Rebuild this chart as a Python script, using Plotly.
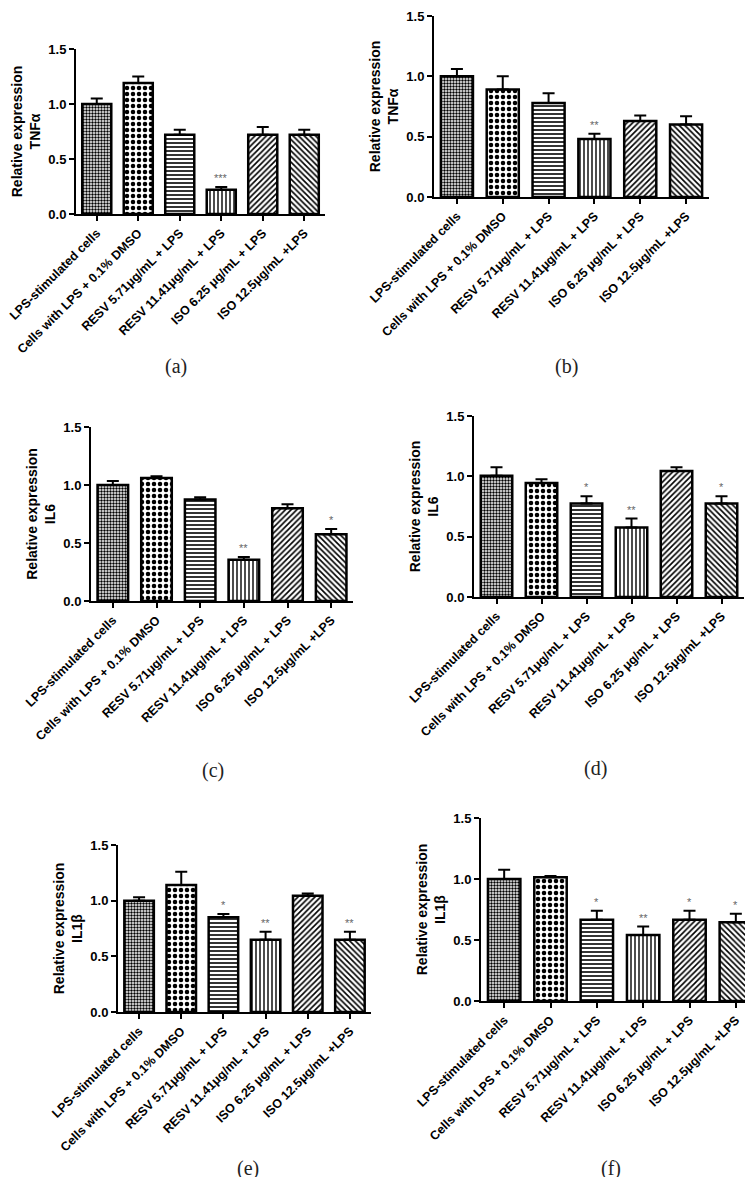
import plotly.graph_objects as go

# group labels (same for every panel)
groups = [
    "LPS-stimulated cells",
    "Cells with LPS + 0.1% DMSO",
    "RESV 5.71μg/mL + LPS",
    "RESV 11.41μg/mL + LPS",
    "ISO 6.25 μg/mL + LPS",
    "ISO 12.5μg/mL +LPS",
]

# means and SEM
tnf_a_mean = [1.00, 1.19, 0.72, 0.22, 0.72, 0.72]
tnf_a_sem = [0.05, 0.06, 0.045, 0.025, 0.07, 0.045]
tnf_a_sig = ["", "", "", "***", "", ""]

tnf_b_mean = [1.00, 0.89, 0.78, 0.48, 0.63, 0.60]
tnf_b_sem = [0.06, 0.11, 0.08, 0.045, 0.045, 0.07]
tnf_b_sig = ["", "", "", "**", "", ""]

il6_c_mean = [1.00, 1.06, 0.875, 0.355, 0.80, 0.575]
il6_c_sem = [0.035, 0.015, 0.02, 0.025, 0.035, 0.045]
il6_c_sig = ["", "", "", "**", "", "*"]

il6_d_mean = [1.005, 0.945, 0.775, 0.575, 1.045, 0.775]
il6_d_sem = [0.07, 0.03, 0.06, 0.075, 0.03, 0.06]
il6_d_sig = ["", "", "*", "**", "", "*"]

il1_e_mean = [1.00, 1.14, 0.85, 0.65, 1.045, 0.65]
il1_e_sem = [0.03, 0.12, 0.03, 0.07, 0.02, 0.07]
il1_e_sig = ["", "", "*", "**", "", "**"]

il1_f_mean = [1.00, 1.015, 0.665, 0.54, 0.665, 0.645]
il1_f_sem = [0.075, 0.01, 0.075, 0.07, 0.075, 0.07]
il1_f_sig = ["", "", "*", "**", "*", "*"]

W, H = 753, 1177

# panel: (label, gene, mean, sem, sig, x0, x1, y_top(1.5), y_zero, label_x, label_y) in pixels
panels = [
    ("(a)", "TNFα", tnf_a_mean, tnf_a_sem, tnf_a_sig, 68, 317, 41, 206, 168, 358),
    ("(b)", "TNFα", tnf_b_mean, tnf_b_sem, tnf_b_sig, 426, 701, 8, 189, 558, 358),
    ("(c)", "IL6", il6_c_mean, il6_c_sem, il6_c_sig, 83, 345, 419, 593, 205, 762),
    ("(d)", "IL6", il6_d_mean, il6_d_sem, il6_d_sig, 466, 736, 408, 589, 587, 760),
    ("(e)", "IL1β", il1_e_mean, il1_e_sem, il1_e_sig, 110, 363, 837, 1004, 240, 1160),
    ("(f)", "IL1β", il1_f_mean, il1_f_sem, il1_f_sig, 473, 751, 810, 993, 603, 1160),
]

shapes = [".", ".", "-", "|", "/", "\\"]
sizes = [3, 6, 4, 4, 4, 4]
solid = [0.5, 0.45, 0.4, 0.35, 0.4, 0.4]

bold = dict(family="Liberation Sans, Arial, sans-serif", size=13, color="black", weight="bold")

fig = go.Figure()
annotations = []

for i, (lab, gene, mean, sem, sig, x0, x1, ytop, yzero, lx, ly) in enumerate(panels):
    n = "" if i == 0 else str(i + 1)
    fig.add_trace(go.Bar(
        x=groups, y=mean,
        xaxis="x" + n, yaxis="y" + n,
        marker=dict(
            color="white",
            line=dict(color="black", width=2.5),
            pattern=dict(shape=shapes, size=sizes, solidity=solid,
                         fgcolor="black", bgcolor="white", fillmode="replace"),
        ),
        error_y=dict(type="data", symmetric=False, array=sem,
                     arrayminus=[0] * len(sem), color="black", thickness=2, width=6),
        showlegend=False,
    ))

    fig.update_layout({
        "xaxis" + n: dict(
            domain=[x0 / W, x1 / W], anchor="y" + n, type="category",
            range=[-0.5, 5.5], tickangle=-45, showline=True, linecolor="black",
            linewidth=2, ticks="outside", ticklen=5, tickwidth=2, tickcolor="black",
            tickvals=groups, ticktext=["<b>" + g + "</b>" for g in groups],
            tickfont=dict(bold, size=12.5), showgrid=False, automargin=False,
        ),
        "yaxis" + n: dict(
            domain=[1 - yzero / H, 1 - ytop / H], anchor="x" + n,
            range=[0, 1.5], dtick=0.5, tickformat=".1f", showline=True,
            linecolor="black", linewidth=2, ticks="outside", ticklen=5,
            tickwidth=2, tickcolor="black", tickfont=bold, showgrid=False,
            zeroline=False, automargin=False,
            title=dict(text="Relative expression<br>" + gene,
                       font=dict(bold, size=14), standoff=4),
        ),
    })

    for g, m, s, t in zip(groups, mean, sem, sig):
        if t:
            annotations.append(dict(
                x=g, y=m + s, xref="x" + n, yref="y" + n, text=t,
                showarrow=False, yanchor="bottom", yshift=1,
                font=dict(family="Liberation Sans, Arial", size=11, color="#666666"),
            ))

    annotations.append(dict(
        x=lx / W, y=1 - ly / H, xref="paper", yref="paper", text=lab,
        showarrow=False, xanchor="center", yanchor="middle",
        font=dict(family="Liberation Serif, serif", size=20, color="#222222"),
    ))

fig.update_layout(
    width=W, height=H,
    margin=dict(l=0, r=0, t=0, b=0),
    paper_bgcolor="white", plot_bgcolor="white",
    bargap=0.3,
    annotations=annotations,
)

fig.write_html("out.html")
